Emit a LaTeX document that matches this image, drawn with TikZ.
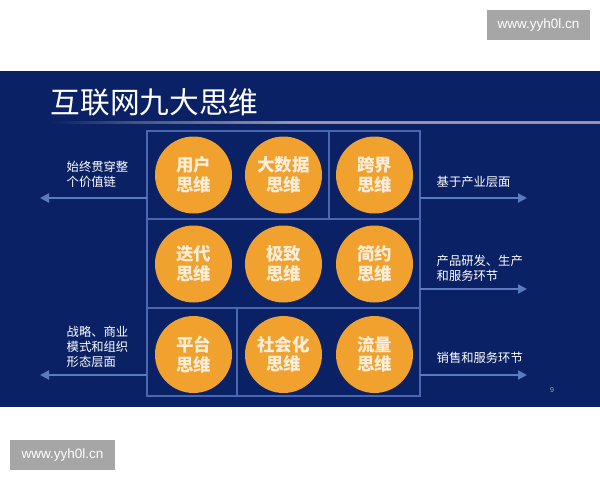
\documentclass[tikz,border=0pt]{standalone}
\usepackage{fontspec}
\setmainfont{Liberation Sans}
\newfontfamily\cjk{Noto Sans CJK SC}
\usetikzlibrary{arrows.meta}
\definecolor{navy}{HTML}{0B2166}
\definecolor{gridblue}{HTML}{4A68B0}
\definecolor{arrowblue}{HTML}{5A7BC0}
\definecolor{orangec}{HTML}{F0A12E}
\definecolor{cream}{HTML}{FCEEDA}
\definecolor{wmgray}{HTML}{A6A6A6}
\definecolor{rulegray}{HTML}{9494A2}
\pgfdeclarehorizontalshading{ruleshade}{100bp}{color(0bp)=(navy); color(25bp)=(navy); color(33bp)=(navy!55!rulegray); color(47bp)=(rulegray); color(100bp)=(rulegray)}
\tikzset{
  gridline/.style={draw=gridblue, line width=1.6pt},
  bubble/.style={circle, fill=orangec, minimum size=77pt, inner sep=0pt,
    text=cream, font=\cjk\bfseries\fontsize{17.5}{19.5}\selectfont, align=center},
  sidelabel/.style={text=white, font=\cjk\fontsize{12.3}{15}\selectfont, align=left, inner sep=0pt},
  sidearrow/.style={draw=arrowblue, line width=2pt, -{Triangle[length=9pt,width=9pt]}},
  watermark/.style={fill=wmgray, text=white, font=\fontsize{13.5}{15}\selectfont, inner sep=0pt}
}
\begin{document}
\begin{tikzpicture}[x=1pt,y=-1pt]
\useasboundingbox (0,0) rectangle (600,480);
\fill[white] (0,0) rectangle (600,480);
% panel
\fill[navy] (0,71) rectangle (600,407);
% title
\node[anchor=west, text=white, font=\cjk\fontsize{29.7}{32}\selectfont, inner sep=0pt] (title) at (50.5,102.5) {互联网九大思维};
\shade[shading=ruleshade] (50,121) rectangle (600,123);
% grid
\draw[gridline] (147,131) rectangle (420,396);
\draw[gridline] (147,219) -- (420,219);
\draw[gridline] (147,308) -- (420,308);
\draw[gridline] (329,131) -- (329,219);
\draw[gridline] (237,308) -- (237,396);
% bubbles
\node[bubble] (yonghu) at (193.5,175) {用户\\思维};
\node[bubble] (dashuju) at (283.5,175) {大数据\\思维};
\node[bubble] (kuajie) at (374.5,175) {跨界\\思维};
\node[bubble] (diedai) at (193.5,264) {迭代\\思维};
\node[bubble] (jizhi) at (283.5,264) {极致\\思维};
\node[bubble] (jianyue) at (374.5,264) {简约\\思维};
\node[bubble] (pingtai) at (193.5,354.5) {平台\\思维};
\node[bubble] (shehuihua) at (283.5,354.5) {社会化\\思维};
\node[bubble] (liuliang) at (374.5,354.5) {流量\\思维};
% arrow anchors
\coordinate (l1s) at (147,198);
\coordinate (l1e) at (40,198);
\coordinate (l2s) at (147,375);
\coordinate (l2e) at (40,375);
\coordinate (r1s) at (420,198);
\coordinate (r1e) at (527,198);
\coordinate (r2s) at (420,289);
\coordinate (r2e) at (527,289);
\coordinate (r3s) at (420,375);
\coordinate (r3e) at (527,375);
\draw[sidearrow] (l1s) -- (l1e);
\draw[sidearrow] (l2s) -- (l2e);
\draw[sidearrow] (r1s) -- (r1e);
\draw[sidearrow] (r2s) -- (r2e);
\draw[sidearrow] (r3s) -- (r3e);
% labels
\node[sidelabel, anchor=west] (lt) at (66.5,174.5) {始终贯穿整\\个价值链};
\node[sidelabel, anchor=west] (lb) at (66.5,347) {战略、商业\\模式和组织\\形态层面};
\node[sidelabel, anchor=west] (rt) at (436.5,182) {基于产业层面};
\node[sidelabel, anchor=west] (rm) at (436.5,268.5) {产品研发、生产\\和服务环节};
\node[sidelabel, anchor=west] (rb) at (436.5,358) {销售和服务环节};
\node[text=gray!70, font=\fontsize{7}{8}\selectfont, inner sep=0pt] (pagenum) at (552,390) {9};
% watermarks
\node[watermark, minimum width=103pt, minimum height=30pt] (wm1) at (538.5,25) {www.yyh0l.cn};
\node[watermark, minimum width=105pt, minimum height=30pt] (wm2) at (62.5,455) {www.yyh0l.cn};
\end{tikzpicture}
\end{document}
